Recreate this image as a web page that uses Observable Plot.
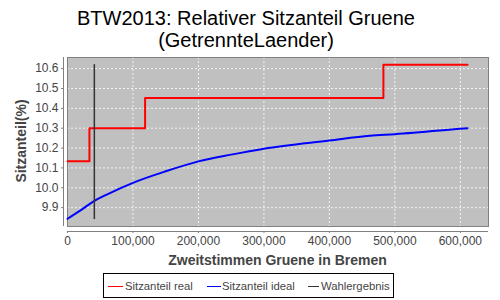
<!DOCTYPE html>
<html><head><meta charset="utf-8">
<script src="https://cdn.jsdelivr.net/npm/d3@7"></script>
<script src="https://cdn.jsdelivr.net/npm/@observablehq/plot@0.6"></script>
<style>
body{margin:0;background:#fff;}
#c{position:relative;width:500px;height:300px;overflow:hidden;font-family:"Liberation Sans",Arial,sans-serif;}
#c svg{position:absolute;left:0;top:0;}
.title{position:absolute;left:0;top:7px;width:492px;text-align:center;font-size:20px;line-height:22px;color:#000;}
.xl{position:absolute;left:67px;width:421px;top:252px;text-align:center;font-size:14px;font-weight:bold;color:#444;line-height:16px;}
.yl{position:absolute;left:21px;top:141px;font-size:14px;font-weight:bold;color:#444;line-height:16px;white-space:nowrap;transform:translate(-50%,-50%) rotate(-90deg);}
.legend{position:absolute;left:103px;top:273px;width:291px;height:25px;border:1px solid #000;box-sizing:border-box;}
.li{position:absolute;top:5px;font-size:11.3px;line-height:14px;color:#444;white-space:nowrap;}
.ll{position:absolute;top:12px;height:0;border-top:1px solid;}
</style>
</head><body>
<div id="c">
  <div class="title">BTW2013: Relativer Sitzanteil Gruene<br>(GetrennteLaender)</div>
  <div class="xl">Zweitstimmen Gruene in Bremen</div>
  <div class="yl">Sitzanteil(%)</div>
  <div class="legend">
    <span class="ll" style="left:4px;width:15px;border-color:#ff0000"></span><span class="li" style="left:21px">Sitzanteil real</span>
    <span class="ll" style="left:103px;width:14px;border-color:#0000ff"></span><span class="li" style="left:118px">Sitzanteil ideal</span>
    <span class="ll" style="left:204px;width:11px;border-color:#333"></span><span class="li" style="left:217px">Wahlergebnis</span>
  </div>
</div>
<script>
const xTicks = [0, 100000, 200000, 300000, 400000, 500000, 600000];
const yTicks = [9.9, 10.0, 10.1, 10.2, 10.3, 10.4, 10.5, 10.6];
const xDomain = [0, 643000];
const yDomain = [9.805, 10.656];

const realX = [0, 33500, 118500, 482500, 611000];
const realY = [10.133, 10.3, 10.452, 10.619, 10.619];

const idealX = [0, 20000, 41000, 60000, 100000, 150000, 200000, 250000, 300000, 400000, 462000, 500000, 600000, 611000];
const idealY = [9.844, 9.886, 9.934, 9.966, 10.025, 10.083, 10.133, 10.167, 10.197, 10.238, 10.262, 10.27, 10.297, 10.30];

const resultX = [41000];
const resultYLow = [9.84];
const resultYHigh = [10.62];

const real = realX.map((x, i) => ({x, y: realY[i]}));
const ideal = idealX.map((x, i) => ({x, y: idealY[i]}));
const result = resultX.map((x, i) => ({x, y1: resultYLow[i], y2: resultYHigh[i]}));

const chart = Plot.plot({
  width: 500, height: 300,
  marginTop: 57, marginBottom: 74, marginLeft: 67, marginRight: 12,
  x: {domain: xDomain},
  y: {domain: yDomain},
  style: {fontFamily: '"Liberation Sans", Arial, sans-serif', fontSize: "12px", color: "#444", background: "transparent", overflow: "visible"},
  marks: [
    Plot.frame({fill: "#c0c0c0"}),
    Plot.gridX(xTicks, {stroke: "#ffffff", strokeOpacity: 0.8, strokeDasharray: "2,2"}),
    Plot.gridY(yTicks, {stroke: "#ffffff", strokeOpacity: 0.8, strokeDasharray: "2,2"}),
    Plot.frame({stroke: "#808080"}),
    Plot.line(real, {x: "x", y: "y", curve: "step-after", stroke: "#ff0000", strokeWidth: 2}),
    Plot.line(ideal, {x: "x", y: "y", curve: "monotone-x", stroke: "#0000ff", strokeWidth: 2}),
    Plot.ruleX(result, {x: "x", y1: "y1", y2: "y2", stroke: "#333", strokeWidth: 1.5}),
    Plot.axisX(xTicks, {tickFormat: d3.format(","), tickSize: 2, tickPadding: 3, dy: 5, label: null, stroke: "#808080"}),
    Plot.axisY(yTicks, {tickFormat: d3.format(".1f"), tickSize: 2, tickPadding: 3, dx: -4, label: null, stroke: "#808080"}),
    Plot.ruleY([yDomain[0]], {dy: 5, stroke: "#808080"}),
    Plot.ruleX([0], {dx: -4, stroke: "#808080"})
  ]
});
document.getElementById("c").prepend(chart);
</script>
</body></html>
